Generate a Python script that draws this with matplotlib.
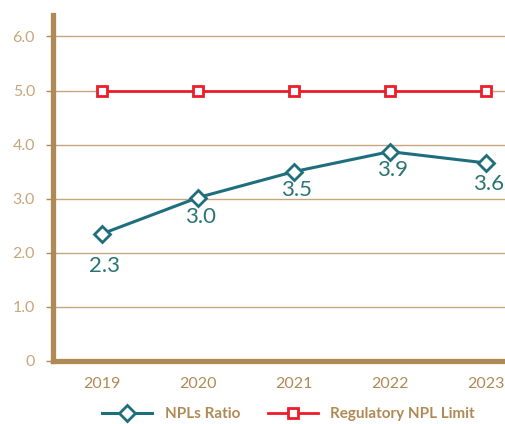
import matplotlib
matplotlib.use("Agg")
import matplotlib.pyplot as plt

years = ["2019", "2020", "2021", "2022", "2023"]
npl_ratio = [2.35, 3.02, 3.5, 3.87, 3.66]
npl_labels = ["2.3", "3.0", "3.5", "3.9", "3.6"]
reg_limit = [5.0, 5.0, 5.0, 5.0, 5.0]
yticks = [0, 1, 2, 3, 4, 5, 6]
ytick_labels = ["0", "1.0", "2.0", "3.0", "4.0", "5.0", "6.0"]

tan = "#B08A55"
tan_light = "#C6A67B"
teal = "#1F6E7E"
teal_txt = "#2B7474"
red = "#EC1C2A"

plt.rcParams["font.family"] = ["Lato", "DejaVu Sans"]

fig = plt.figure(figsize=(5.06, 4.24), dpi=100)
ax = fig.add_axes((0.105, 0.149, 0.895, 0.816))

x = list(range(len(years)))
ax.grid(axis="y", color=tan_light, lw=1)
ax.set_axisbelow(True)

ax.plot(x, npl_ratio, color=teal, lw=2.2, marker="D", ms=8,
        mfc="white", mec=teal, mew=2, label="NPLs Ratio", zorder=3)
ax.plot(x, reg_limit, color=red, lw=2, marker="s", ms=7,
        mfc="white", mec=red, mew=2, label="Regulatory NPL Limit", zorder=3)

offsets = [-23, -14, -13, -13, -15]
for xi, v, lab, off in zip(x, npl_ratio, npl_labels, offsets):
    ax.annotate(lab, (xi, v), xytext=(2, off), textcoords="offset points",
                ha="center", va="center", fontsize=16, color=teal_txt)

ax.set_xlim(-0.51, 4.21)
ax.set_ylim(0, 6.4)
ax.set_xticks(x)
ax.set_xticklabels(years)
ax.set_yticks(yticks)
ax.set_yticklabels(ytick_labels)
ax.tick_params(axis="x", length=0, pad=12, labelsize=11.5, labelcolor=tan)
ax.tick_params(axis="y", length=5, width=1, color=tan, pad=8,
               labelsize=11.5, labelcolor=tan_light)

for s in ["top", "right"]:
    ax.spines[s].set_visible(False)
for s in ["left", "bottom"]:
    ax.spines[s].set_color(tan)
    ax.spines[s].set_linewidth(3.8)

leg = fig.legend(loc="lower center", bbox_to_anchor=(0.57, -0.025), ncol=2,
                 frameon=False, handlelength=3.3, columnspacing=1.8,
                 prop={"weight": "bold", "size": 11})
for t in leg.get_texts():
    t.set_color(tan)

fig.savefig("out.png", dpi=100)
